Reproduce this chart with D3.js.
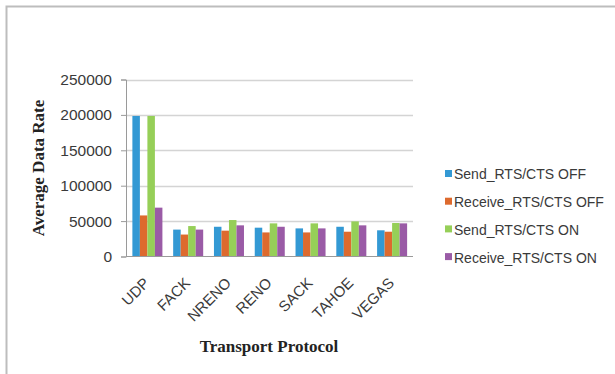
<!DOCTYPE html>
<html>
<head>
<meta charset="utf-8">
<script src="https://cdn.jsdelivr.net/npm/d3@7"></script>
<style>
  html, body { margin: 0; padding: 0; background: #fff; }
  svg { display: block; }
</style>
</head>
<body>
<svg id="chart" width="615" height="374"></svg>
<script>
// Average data rate per transport protocol, RTS/CTS off vs on
const protocols = ["UDP", "FACK", "NRENO", "RENO", "SACK", "TAHOE", "VEGAS"];
const seriesNames = ["Send_RTS/CTS OFF", "Receive_RTS/CTS OFF", "Send_RTS/CTS ON", "Receive_RTS/CTS ON"];
const sendOff    = [198500, 38000, 42000, 40700, 39700, 42000, 37000];
const receiveOff = [58000, 31000, 36500, 34000, 34000, 35000, 35000];
const sendOn     = [198500, 43000, 51500, 46800, 46800, 49600, 47300];
const receiveOn  = [69000, 38000, 44000, 42000, 39700, 44000, 46800];
const yTicks = [0, 50000, 100000, 150000, 200000, 250000];
const colors = ["#3399d4", "#dd6a2e", "#96cf58", "#9a5ba6"];

const seriesValues = [sendOff, receiveOff, sendOn, receiveOn];
const rows = protocols.map((p, i) => ({
  protocol: p,
  values: seriesNames.map((s, j) => ({ series: s, value: seriesValues[j][i] }))
}));

const svg = d3.select("#chart");

// outer frame
svg.append("rect")
  .attr("x", 6.5).attr("y", 6.5)
  .attr("width", 640).attr("height", 400)
  .attr("fill", "none")
  .attr("stroke", "#bdbdbd")
  .attr("stroke-width", 2);

const plot = { left: 126, right: 413, top: 79.5, bottom: 256.5 };

const x0 = d3.scaleBand()
  .domain(protocols)
  .range([127, 412.5])
  .paddingInner(0.264)
  .paddingOuter(0.132);

const x1 = d3.scaleBand()
  .domain(seriesNames)
  .range([0, x0.bandwidth()]);

const y = d3.scaleLinear()
  .domain([0, 250000])
  .range([plot.bottom, plot.top]);

const color = d3.scaleOrdinal().domain(seriesNames).range(colors);

// gridlines
svg.append("g")
  .selectAll("line")
  .data(yTicks.filter(t => t > 0))
  .join("line")
  .attr("x1", plot.left).attr("x2", plot.right)
  .attr("y1", d => Math.round(y(d)) + 0.5)
  .attr("y2", d => Math.round(y(d)) + 0.5)
  .attr("stroke", "#d4d4d4")
  .attr("stroke-width", 1.5);

// y axis
const yAxis = svg.append("g")
  .attr("transform", `translate(${plot.left},0)`)
  .call(d3.axisLeft(y).tickValues(yTicks).tickSize(5).tickPadding(9).tickFormat(d3.format("d")));
yAxis.select(".domain").attr("stroke", "#9a9a9a");
yAxis.selectAll(".tick line").attr("stroke", "#9a9a9a");
yAxis.selectAll(".tick text")
  .attr("font-family", "'Liberation Sans', Arial, sans-serif")
  .attr("font-size", 15.5)
  .attr("fill", "#3a3a3a");

// bars
svg.append("g")
  .selectAll("g")
  .data(rows)
  .join("g")
  .attr("transform", d => `translate(${x0(d.protocol)},0)`)
  .selectAll("rect")
  .data(d => d.values)
  .join("rect")
  .attr("x", d => x1(d.series))
  .attr("width", x1.bandwidth())
  .attr("y", d => y(d.value))
  .attr("height", d => y(0) - y(d.value))
  .attr("fill", d => color(d.series));

// x axis baseline
svg.append("line")
  .attr("x1", plot.left).attr("x2", plot.right)
  .attr("y1", plot.bottom).attr("y2", plot.bottom)
  .attr("stroke", "#9a9a9a");

// category labels, rotated
svg.append("g")
  .selectAll("text")
  .data(protocols)
  .join("text")
  .attr("transform", d => `translate(${x0(d) + x0.bandwidth() / 2 + 3},284) rotate(-45)`)
  .attr("text-anchor", "end")
  .attr("font-family", "'Liberation Sans', Arial, sans-serif")
  .attr("font-size", 15)
  .attr("fill", "#3a3a3a")
  .text(d => d);

// axis titles
svg.append("text")
  .attr("transform", "translate(44,168) rotate(-90)")
  .attr("text-anchor", "middle")
  .attr("font-family", "'Liberation Serif', 'Times New Roman', serif")
  .attr("font-weight", "bold")
  .attr("font-size", 17)
  .attr("fill", "#222")
  .text("Average Data Rate");

svg.append("text")
  .attr("x", 269).attr("y", 352)
  .attr("text-anchor", "middle")
  .attr("font-family", "'Liberation Serif', 'Times New Roman', serif")
  .attr("font-weight", "bold")
  .attr("font-size", 17)
  .attr("fill", "#222")
  .text("Transport Protocol");

// legend
const legend = svg.append("g")
  .selectAll("g")
  .data(seriesNames)
  .join("g")
  .attr("transform", (d, i) => `translate(445,${174.5 + i * 27.7})`);
legend.append("rect")
  .attr("x", 0).attr("y", -4.5)
  .attr("width", 7).attr("height", 7)
  .attr("fill", d => color(d));
legend.append("text")
  .attr("x", 9).attr("y", 0)
  .attr("dy", "0.35em")
  .attr("font-family", "'Liberation Sans', Arial, sans-serif")
  .attr("font-size", 14)
  .attr("fill", "#3a3a3a")
  .text(d => d);
</script>
</body>
</html>
